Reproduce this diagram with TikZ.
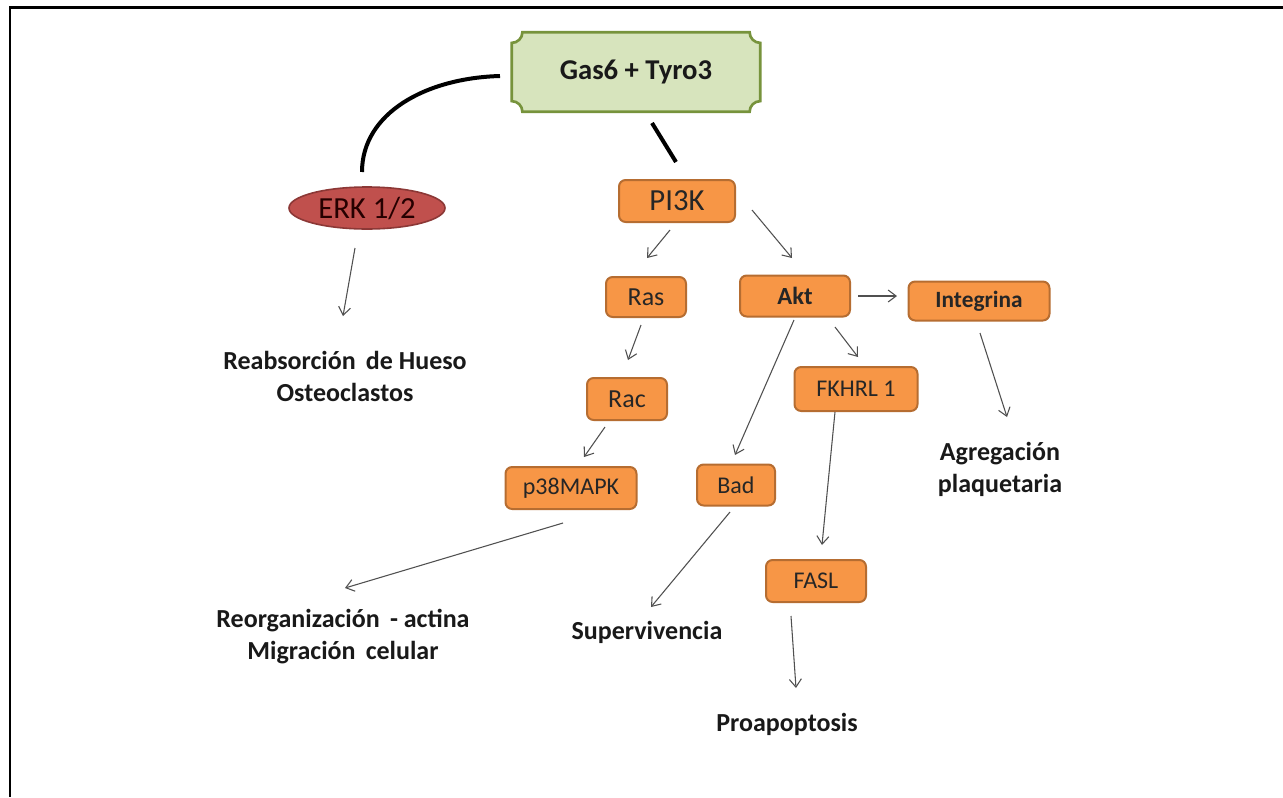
\documentclass[tikz,border=0pt]{standalone}
\usepackage{fontspec}
\setmainfont{Carlito}
\usetikzlibrary{arrows.meta,calc,backgrounds,shapes.geometric}
\definecolor{orfill}{HTML}{F79646}
\definecolor{ordraw}{HTML}{B66D31}
\definecolor{gfill}{HTML}{D7E4BD}
\definecolor{gdraw}{HTML}{77933C}
\definecolor{rfill}{HTML}{C0504D}
\definecolor{rdraw}{HTML}{8C3836}
\definecolor{arrcol}{HTML}{505050}
\tikzset{
  obox/.style={draw=ordraw, fill=orfill, line width=1.5pt, rounded corners=5pt, inner sep=0pt,
     font=\fontsize{18}{20}\selectfont, text=black!85},
  lbl/.style={font=\bfseries\fontsize{19.5}{24}\selectfont, align=center, text=black!90},
  arr/.style={draw=arrcol, line width=0.8pt, -{Straight Barb[length=6pt,width=9pt]}},
  thick line/.style={draw=black, line width=3pt}
}
\begin{document}
\begin{tikzpicture}[x=0.75pt,y=-0.75pt]
\useasboundingbox (0,0) rectangle (1283,797);
% nodes
\node[font=\bfseries\fontsize{21.5}{24}\selectfont, text=black!90, minimum width=0.75*248pt, minimum height=0.75*79pt, inner sep=0pt] (gas) at (636,72) {Gas6 + Tyro3};
\node[ellipse, draw=rdraw, fill=rfill, line width=1.2pt, minimum width=0.75*156pt, minimum height=0.75*42pt, inner sep=0pt,
      font=\fontsize{23}{24}\selectfont, text=black!85!red] (erk) at (367,208) {ERK 1/2};
\node[obox, minimum width=0.75*116pt, minimum height=0.75*42pt, font=\fontsize{23}{24}\selectfont] (pik) at (677,201) {PI3K};
\node[obox, minimum width=0.75*80pt, minimum height=0.75*40pt, font=\fontsize{19.5}{20}\selectfont] (ras) at (646,297) {Ras};
\node[obox, minimum width=0.75*110pt, minimum height=0.75*41pt, font=\bfseries\fontsize{18.5}{20}\selectfont] (akt) at (795,296) {Akt};
\node[obox, minimum width=0.75*141pt, minimum height=0.75*39pt, font=\bfseries\fontsize{17.5}{20}\selectfont] (integ) at (979,301) {Integrina};
\node[obox, minimum width=0.75*80pt, minimum height=0.75*42pt, font=\fontsize{19.5}{20}\selectfont] (rac) at (627,399) {Rac};
\node[obox, minimum width=0.75*131pt, minimum height=0.75*42pt] (p38) at (571,488) {p38MAPK};
\node[obox, minimum width=0.75*78pt, minimum height=0.75*41pt] (bad) at (736,485) {Bad};
\node[obox, minimum width=0.75*123pt, minimum height=0.75*44pt] (fk) at (856,389) {FKHRL 1};
\node[obox, minimum width=0.75*100pt, minimum height=0.75*42pt] (fasl) at (816,581) {FASL};
\node[lbl] (reab) at (345,376) {Reabsorción \,de Hueso\\Osteoclastos};
\node[lbl] (agreg) at (1000,469) {Agregación\\plaquetaria};
\node[lbl] (reorg) at (343,637) {Reorganización \,- actina\\Migración \,celular};
\node[lbl] (sup) at (647,632) {Supervivencia};
\node[lbl] (pro) at (787,724) {Proapoptosis};
% plaque shape behind Gas6 node
\begin{scope}[on background layer]
\fill[white] (0,0) rectangle (1283,797);
\path let \p1=(gas.north west), \p2=(gas.south east) in
  [draw=gdraw, fill=gfill, line width=2pt]
  (\x1+8pt,\y1) -- (\x2-8pt,\y1)
  .. controls (\x2-8pt,\y1-4.4pt) and (\x2-4.4pt,\y1-8pt) .. (\x2,\y1-8pt)
  -- (\x2,\y2+8pt)
  .. controls (\x2-4.4pt,\y2+8pt) and (\x2-8pt,\y2+4.4pt) .. (\x2-8pt,\y2)
  -- (\x1+8pt,\y2)
  .. controls (\x1+8pt,\y2+4.4pt) and (\x1+4.4pt,\y2+8pt) .. (\x1,\y2+8pt)
  -- (\x1,\y1-8pt)
  .. controls (\x1+4.4pt,\y1-8pt) and (\x1+8pt,\y1-4.4pt) .. cycle;
\end{scope}
% frame (top and left only)
\draw[black, line width=2.2pt] (9,7.5) -- (1283,7.5);
\draw[black, line width=1.5pt] (9.5,7) -- (9.5,797);
% thick connectors from Gas6
\draw[thick line] ($(gas)+(-136,4)$) .. controls ($(gas)+(-210,6)$) and ($(erk)+(-5,-95)$) .. ($(erk)+(-5,-36)$);
\draw[thick line] ($(gas)+(16,51)$) -- ($(pik)+(-1,-39)$);
% arrows
\draw[arr] ($(erk)+(-12,40)$) -- ($(reab)+(-2,-60)$);
\draw[arr] ($(pik)+(-7,29)$) -- ($(ras)+(1,-39)$);
\draw[arr] ($(pik)+(75,9)$) -- ($(akt)+(-3,-38)$);
\draw[arr] ($(akt)+(63,0)$) -- ($(integ)+(-82,-5)$);
\draw[arr] ($(ras)+(-5,28)$) -- ($(rac)+(1,-39)$);
\draw[arr] ($(rac)+(-22,28)$) -- ($(p38)+(13,-31)$);
\draw[arr] ($(akt)+(-1,24)$) -- ($(bad)+(-1,-30)$);
\draw[arr] ($(akt)+(40,31)$) -- ($(fk)+(2,-32)$);
\draw[arr] ($(fk)+(-21,23)$) -- ($(fasl)+(6,-36)$);
\draw[arr] ($(fasl)+(-25,35)$) -- ($(pro)+(9,-36)$);
\draw[arr] ($(integ)+(1,32)$) -- ($(agreg)+(7,-52)$);
\draw[arr] ($(p38)+(-8,35)$) -- ($(reorg)+(2,-49)$);
\draw[arr] ($(bad)+(-6,27)$) -- ($(sup)+(4,-25)$);
\end{tikzpicture}
\end{document}
